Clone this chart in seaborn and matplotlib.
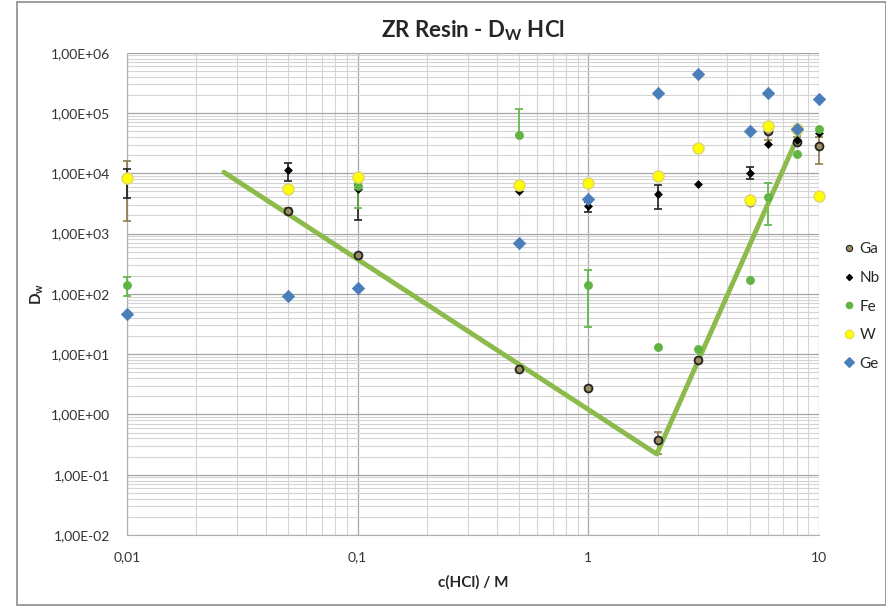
import numpy as np
import pandas as pd
import seaborn as sns
import matplotlib.pyplot as plt
from matplotlib.ticker import FuncFormatter, LogLocator, FixedLocator
from matplotlib.lines import Line2D
from matplotlib.patches import Rectangle

# HCl concentrations (M)
conc = [0.01, 0.05, 0.1, 0.5, 1, 2, 3, 5, 6, 8, 10]

# Dw values per element (nan = not shown)
ga = [8500, 2400, 440, 5.7, 2.7, 0.38, 8.1, 3400, 50000, 33000, 28000]
nb = [8000, 11400, 5400, 5000, 2900, 4600, 6700, 10300, 30700, 35500, 45800]
fe = [138, np.nan, 6200, 43000, 138, 12.9, 12.1, 172, 4050, 20500, 54700]
w = [8300, 5500, 8700, 6500, 6900, 9000, 26400, 3670, 60500, 55000, 4200]
ge = [46, 91, 127, 700, 3700, 211000, 448000, 49400, 217000, 53500, 172000]

# error bar limits (low, high) where visible
ga_lo = [1600, 2150, np.nan, np.nan, np.nan, 0.22, np.nan, np.nan, 36000, 30000, 14000]
ga_hi = [16000, 2700, np.nan, np.nan, np.nan, 0.52, np.nan, np.nan, 60000, 40000, 40000]
nb_lo = [3900, 7400, 1700, np.nan, 2300, 2600, np.nan, 7900, np.nan, np.nan, np.nan]
nb_hi = [12000, 14700, 6500, np.nan, 3300, 6500, np.nan, 12800, np.nan, np.nan, np.nan]
fe_lo = [92, np.nan, 2700, np.nan, 28, np.nan, np.nan, np.nan, 1400, np.nan, np.nan]
fe_hi = [190, np.nan, 7000, 117000, 245, np.nan, np.nan, np.nan, 6800, np.nan, np.nan]

# trend line (V shape)
line_x = [0.0263, 1.98, 8.27]
line_y = [10400, 0.22, 48700]

df = pd.DataFrame({"c": conc, "Ga": ga, "Nb": nb, "Fe": fe, "W": w, "Ge": ge})

sns.set_style("white")
plt.rcParams["font.family"] = ["Lato", "DejaVu Sans"]

fig = plt.figure(figsize=(8.87, 6.06), dpi=100)
ax = fig.add_axes([0.1432, 0.1172, 0.7801, 0.7958])

fig.patches.append(Rectangle((17 / 887, 0.001), 869 / 887, 1 - 2 / 606 - 0.001,
                             transform=fig.transFigure, fill=False,
                             edgecolor="#8c8c8c", linewidth=1.2))

def err(vals, lo, hi, color):
    v = np.array(vals, dtype=float)
    l = np.array(lo, dtype=float)
    h = np.array(hi, dtype=float)
    lower = np.where(np.isnan(l), 0, v - l)
    upper = np.where(np.isnan(h), 0, h - v)
    mask = ~(np.isnan(l) & np.isnan(h))
    bars = ax.errorbar(np.array(conc)[mask], v[mask],
                       yerr=[lower[mask], upper[mask]], fmt="none",
                       ecolor=color, elinewidth=1.2, capsize=3, capthick=1.2, zorder=3)
    for part in bars.lines[1] + bars.lines[2]:
        part.set_clip_on(False)

err(ga, ga_lo, ga_hi, "#8c7a4e")
err(nb, nb_lo, nb_hi, "#222222")
err(fe, fe_lo, fe_hi, "#5fb443")

sns.lineplot(x=line_x, y=line_y, ax=ax, color="#8cbb4c", linewidth=3.5,
             sort=False, zorder=4)

styles = {
    "Ga": dict(marker="o", s=32, color="#9c8c62", edgecolor="#222222", linewidth=1.3),
    "Nb": dict(marker="D", s=16, color="#000000", edgecolor="#000000", linewidth=0.5),
    "Fe": dict(marker="o", s=34, color="#5fb443", edgecolor="#5fb443", linewidth=0.5),
    "W": dict(marker="o", s=62, color="#ffff00", edgecolor="#e2da6a", linewidth=1.2),
    "Ge": dict(marker="D", s=40, color="#4a7ebb", edgecolor="#4a7ebb", linewidth=0.5),
}
for name, st in styles.items():
    sns.scatterplot(data=df, x="c", y=name, ax=ax, zorder=5, clip_on=False, **st)

ax.set_xscale("log")
ax.set_yscale("log")
ax.set_xlim(0.01, 10)
ax.set_ylim(1e-2, 1e6)

ax.xaxis.set_major_locator(FixedLocator([0.01, 0.1, 1, 10]))
ax.xaxis.set_minor_locator(LogLocator(base=10, subs=np.arange(2, 10)))
ax.yaxis.set_major_locator(LogLocator(base=10, numticks=20))
ax.yaxis.set_minor_locator(LogLocator(base=10, subs=np.arange(2, 10), numticks=20))

ax.xaxis.set_major_formatter(FuncFormatter(lambda v, p: ("%g" % v).replace(".", ",")))
ax.xaxis.set_minor_formatter(FuncFormatter(lambda v, p: ""))

def yfmt(v, p):
    e = int(round(np.log10(v)))
    return "1,00E%s%02d" % ("+" if e >= 0 else "-", abs(e))

ax.yaxis.set_major_formatter(FuncFormatter(yfmt))
ax.yaxis.set_minor_formatter(FuncFormatter(lambda v, p: ""))

ax.grid(which="major", color="#a6a6a6", linewidth=0.9)
ax.grid(which="minor", color="#d4d4d4", linewidth=0.8)
ax.set_axisbelow(True)
ax.tick_params(which="both", length=0, labelsize=10, colors="#333333", pad=12)
for side in ["top", "right"]:
    ax.spines[side].set_visible(False)
for side in ["left", "bottom"]:
    ax.spines[side].set_color("#b0b0b0")

ax.set_title("ZR Resin - D$_\\mathregular{W}$ HCl", fontsize=16, fontweight="bold", pad=11)
ax.set_xlabel("c(HCl) / M", fontsize=11, fontweight="bold", labelpad=8)
ax.set_ylabel("D$_\\mathregular{w}$", fontsize=11, fontweight="bold", labelpad=4)

handles = [Line2D([], [], linestyle="none", marker=st["marker"],
                  markersize=np.sqrt(st["s"]) * 0.8,
                  markerfacecolor=st["color"], markeredgecolor=st["edgecolor"],
                  markeredgewidth=0.8)
           for n, st in styles.items()]
ax.legend(handles, list(styles.keys()), loc="upper left", bbox_to_anchor=(1.01, 0.635),
          frameon=False, fontsize=11, handletextpad=0.1, labelspacing=0.95,
          handlelength=1.2)

fig.savefig("out.png", dpi=100)
